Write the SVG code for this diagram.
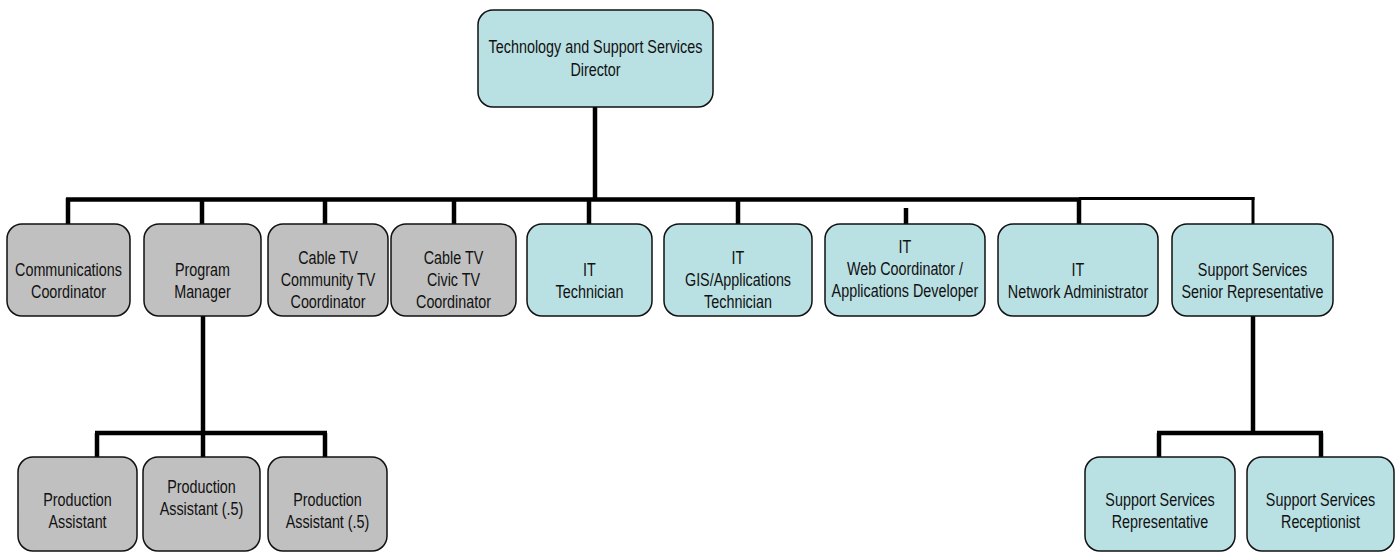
<svg xmlns="http://www.w3.org/2000/svg" width="1396" height="557" viewBox="0 0 1396 557">
  <style>
    .box { stroke: #111; stroke-width: 1.5; }
    .gray { fill: #c0c0c0; }
    .teal { fill: #b9e0e3; }
    /* condensed sans: regular face squeezed horizontally */
    .lbl { font-family: "Liberation Sans", Arial, sans-serif; font-size: 17.5px; fill: #111; text-anchor: middle; }
    .wire { stroke: #000; stroke-width: 4.5; fill: none; }
    .wire-thin { stroke: #000; stroke-width: 3; fill: none; }
  </style>
  <rect width="1396" height="557" fill="#fff"/>

  <!-- connectors -->
  <g id="connectors">
    <line class="wire" x1="595" y1="107" x2="595" y2="199.5"/>
    <line class="wire" x1="66" y1="199.5" x2="1081" y2="199.5"/>
    <line class="wire-thin" x1="1079" y1="198.5" x2="1254.5" y2="198.5"/>
    <line class="wire" x1="68" y1="198" x2="68" y2="224"/>
    <line class="wire" x1="202" y1="198" x2="202" y2="224"/>
    <line class="wire" x1="325" y1="198" x2="325" y2="224"/>
    <line class="wire" x1="454" y1="198" x2="454" y2="224"/>
    <line class="wire" x1="589" y1="198" x2="589" y2="224"/>
    <line class="wire" x1="738" y1="198" x2="738" y2="224"/>
    <line class="wire" x1="906" y1="208" x2="906" y2="224"/>
    <line class="wire" x1="1079" y1="198" x2="1079" y2="224"/>
    <line class="wire-thin" x1="1253" y1="197" x2="1253" y2="224"/>
    <!-- Program Manager branch -->
    <line class="wire" x1="203" y1="316" x2="203" y2="433"/>
    <line class="wire" x1="95" y1="433" x2="327" y2="433"/>
    <line class="wire" x1="97" y1="433" x2="97" y2="457"/>
    <line class="wire" x1="203" y1="433" x2="203" y2="457"/>
    <line class="wire" x1="325" y1="433" x2="325" y2="457"/>
    <!-- Support Services branch -->
    <line class="wire" x1="1253" y1="316" x2="1253" y2="433"/>
    <line class="wire" x1="1157" y1="433" x2="1323" y2="433"/>
    <line class="wire" x1="1159" y1="433" x2="1159" y2="457"/>
    <line class="wire" x1="1321" y1="433" x2="1321" y2="457"/>
  </g>

  <g id="director">
    <rect class="box teal" x="478" y="10" width="235" height="97" rx="15"/>
    <text class="lbl" transform="translate(595.5 53) scale(0.82 1)">Technology and Support Services</text>
    <text class="lbl" transform="translate(595.5 76) scale(0.82 1)">Director</text>
  </g>

  <g id="comm-coordinator">
    <rect class="box gray" x="7" y="224" width="123" height="92" rx="15"/>
    <text class="lbl" transform="translate(68.5 276) scale(0.82 1)">Communications</text>
    <text class="lbl" transform="translate(68.5 298) scale(0.82 1)">Coordinator</text>
  </g>

  <g id="program-manager">
    <rect class="box gray" x="144" y="224" width="117" height="92" rx="15"/>
    <text class="lbl" transform="translate(202.5 276) scale(0.82 1)">Program</text>
    <text class="lbl" transform="translate(202.5 298) scale(0.82 1)">Manager</text>
  </g>

  <g id="community-tv">
    <rect class="box gray" x="268" y="224" width="120" height="92" rx="15"/>
    <text class="lbl" transform="translate(328 264) scale(0.82 1)">Cable TV</text>
    <text class="lbl" transform="translate(328 286) scale(0.82 1)">Community TV</text>
    <text class="lbl" transform="translate(328 308) scale(0.82 1)">Coordinator</text>
  </g>

  <g id="civic-tv">
    <rect class="box gray" x="391" y="224" width="125" height="92" rx="15"/>
    <text class="lbl" transform="translate(453.5 264) scale(0.82 1)">Cable TV</text>
    <text class="lbl" transform="translate(453.5 286) scale(0.82 1)">Civic TV</text>
    <text class="lbl" transform="translate(453.5 308) scale(0.82 1)">Coordinator</text>
  </g>

  <g id="it-technician">
    <rect class="box teal" x="527" y="224" width="125" height="92" rx="15"/>
    <text class="lbl" transform="translate(589.5 276) scale(0.82 1)">IT</text>
    <text class="lbl" transform="translate(589.5 298) scale(0.82 1)">Technician</text>
  </g>

  <g id="gis-technician">
    <rect class="box teal" x="664" y="224" width="148" height="92" rx="15"/>
    <text class="lbl" transform="translate(738 264) scale(0.82 1)">IT</text>
    <text class="lbl" transform="translate(738 286) scale(0.82 1)">GIS/Applications</text>
    <text class="lbl" transform="translate(738 308) scale(0.82 1)">Technician</text>
  </g>

  <g id="web-coordinator">
    <rect class="box teal" x="825" y="224" width="160" height="92" rx="15"/>
    <text class="lbl" transform="translate(905 253) scale(0.82 1)">IT</text>
    <text class="lbl" transform="translate(905 275) scale(0.82 1)">Web Coordinator /</text>
    <text class="lbl" transform="translate(905 297) scale(0.82 1)">Applications Developer</text>
  </g>

  <g id="network-admin">
    <rect class="box teal" x="998" y="224" width="160" height="92" rx="15"/>
    <text class="lbl" transform="translate(1078 276) scale(0.82 1)">IT</text>
    <text class="lbl" transform="translate(1078 298) scale(0.82 1)">Network Administrator</text>
  </g>

  <g id="support-senior">
    <rect class="box teal" x="1172" y="224" width="161" height="92" rx="15"/>
    <text class="lbl" transform="translate(1252.5 276) scale(0.82 1)">Support Services</text>
    <text class="lbl" transform="translate(1252.5 298) scale(0.82 1)">Senior Representative</text>
  </g>

  <g id="production-assistant-1">
    <rect class="box gray" x="18" y="457" width="119" height="94" rx="15"/>
    <text class="lbl" transform="translate(77.5 506) scale(0.82 1)">Production</text>
    <text class="lbl" transform="translate(77.5 528) scale(0.82 1)">Assistant</text>
  </g>

  <g id="production-assistant-2">
    <rect class="box gray" x="143" y="457" width="117" height="94" rx="15"/>
    <text class="lbl" transform="translate(201.5 493) scale(0.82 1)">Production</text>
    <text class="lbl" transform="translate(201.5 515) scale(0.82 1)">Assistant (.5)</text>
  </g>

  <g id="production-assistant-3">
    <rect class="box gray" x="268" y="457" width="119" height="94" rx="15"/>
    <text class="lbl" transform="translate(327.5 506) scale(0.82 1)">Production</text>
    <text class="lbl" transform="translate(327.5 528) scale(0.82 1)">Assistant (.5)</text>
  </g>

  <g id="support-representative">
    <rect class="box teal" x="1085" y="457" width="150" height="94" rx="15"/>
    <text class="lbl" transform="translate(1160 506) scale(0.82 1)">Support Services</text>
    <text class="lbl" transform="translate(1160 528) scale(0.82 1)">Representative</text>
  </g>

  <g id="support-receptionist">
    <rect class="box teal" x="1247" y="457" width="147" height="94" rx="15"/>
    <text class="lbl" transform="translate(1320.5 506) scale(0.82 1)">Support Services</text>
    <text class="lbl" transform="translate(1320.5 528) scale(0.82 1)">Receptionist</text>
  </g>
</svg>
